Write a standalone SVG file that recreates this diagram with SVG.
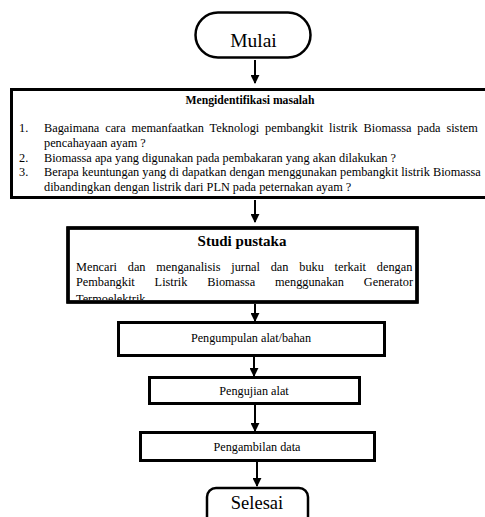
<svg xmlns="http://www.w3.org/2000/svg" width="485" height="517" viewBox="0 0 485 517">
<style>
.box{fill:#fff;stroke:#000;stroke-width:3}
.term{fill:#fff;stroke:#000;stroke-width:2.5}
.c{text-anchor:middle}
.b{font-weight:bold}
.conn line{stroke:#000;stroke-width:2}
</style>
<defs>
<marker id="ah" viewBox="0 0 10 10" refX="9" refY="5" markerWidth="4.5" markerHeight="4.5" orient="auto" markerUnits="strokeWidth">
<path d="M0,0 L10,5 L0,10 z" fill="#000"/>
</marker>
<clipPath id="clip2"><rect x="68" y="228" width="349" height="72"/></clipPath>
</defs>
<rect width="485" height="517" fill="#fff"/>
<g class="conn">
<line x1="255" y1="60" x2="255" y2="83" marker-end="url(#ah)"/>
<line x1="255" y1="200" x2="255" y2="222" marker-end="url(#ah)"/>
<line x1="255" y1="304" x2="255" y2="321" marker-end="url(#ah)"/>
<line x1="254" y1="357" x2="254" y2="376" marker-end="url(#ah)"/>
<line x1="255" y1="405" x2="255" y2="431" marker-end="url(#ah)"/>
<line x1="257" y1="462" x2="257" y2="486" marker-end="url(#ah)"/>
</g>
<g font-family="'Liberation Serif', 'Times New Roman', 'DejaVu Serif', serif" fill="#000">
<g id="mulai">
<rect class="term" x="195.5" y="12.5" width="115" height="45" rx="22.5"/>
<text class="c" x="253.5" y="47" font-size="19.5">Mulai</text>
</g>
<g id="identifikasi">
<rect class="box" x="11.5" y="89.5" width="480" height="108"/>
<text class="c b" x="250" y="104" font-size="11.7">Mengidentifikasi masalah</text>
<g font-size="12.3">
<text x="19" y="132">1.</text>
<text x="44" y="132" word-spacing="2.8">Bagaimana cara memanfaatkan Teknologi pembangkit listrik Biomassa pada sistem</text>
<text x="44" y="147">pencahayaan ayam ?</text>
<text x="19" y="161.5">2.</text>
<text x="44" y="161.5">Biomassa apa yang digunakan pada pembakaran yang akan dilakukan ?</text>
<text x="19" y="176">3.</text>
<text x="44" y="176">Berapa keuntungan yang di dapatkan dengan menggunakan pembangkit listrik Biomassa</text>
<text x="44" y="190.5">dibandingkan dengan listrik dari PLN pada peternakan ayam ?</text>
</g>
</g>
<g id="studi">
<rect class="box" x="68" y="228" width="349" height="74" stroke-width="3.5"/>
<text class="c b" x="242" y="246" font-size="15">Studi pustaka</text>
<g font-size="12.3" clip-path="url(#clip2)">
<text x="76" y="271" word-spacing="7.7">Mencari dan menganalisis jurnal dan buku terkait dengan</text>
<text x="76" y="286" word-spacing="16.8">Pembangkit Listrik Biomassa menggunakan Generator</text>
<text x="76" y="303">Termoelektrik</text>
</g>
<rect x="68" y="228" width="349" height="74" fill="none" stroke="#000" stroke-width="3.5"/>
</g>
<g id="pengumpulan">
<rect class="box" x="118.5" y="322.5" width="266" height="33"/>
<text class="c" x="251" y="341.5" font-size="12.2">Pengumpulan alat/bahan</text>
</g>
<g id="pengujian">
<rect class="box" x="149.5" y="377.5" width="210" height="26"/>
<text class="c" x="254" y="394.5" font-size="12.2">Pengujian alat</text>
</g>
<g id="pengambilan">
<rect class="box" x="140.5" y="432.5" width="234" height="28"/>
<text class="c" x="257" y="450.5" font-size="12.2">Pengambilan data</text>
</g>
<g id="selesai">
<rect class="term" x="207" y="488" width="101" height="45" rx="9"/>
<text class="c" x="257" y="509" font-size="18.5">Selesai</text>
</g>
</g>
</svg>
